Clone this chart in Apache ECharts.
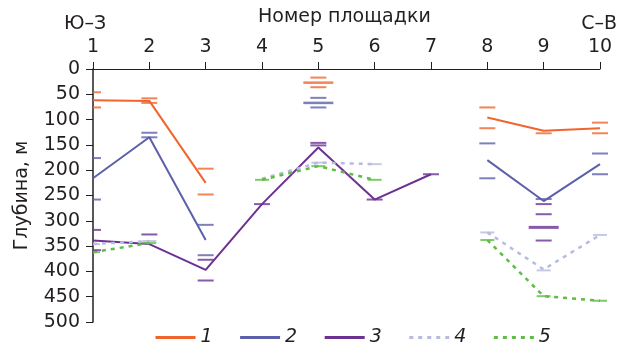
<!DOCTYPE html>
<html>
<head>
<meta charset="utf-8">
<script src="https://cdn.jsdelivr.net/npm/echarts@6/dist/echarts.min.js"></script>
<style>
  html, body { margin: 0; padding: 0; background: #fff; }
  #chart { width: 618px; height: 348px; }
</style>
</head>
<body>
<div id="chart"></div>
<script>
// Site numbers along the profile (south-west to north-east)
const sites = [1, 2, 3, 4, 5, 6, 7, 8, 9, 10];
const depthTicks = [0, 50, 100, 150, 200, 250, 300, 350, 400, 450, 500];

// Mean depth of each boundary per site, m (null = not traced)
const layer1 = [62, 63, 225, null, null, null, null, 96, 122, 117];
const layer2 = [216, 135, 338, null, null, null, null, 180, 261, 188];
const layer3 = [339, 346, 397, 267, 155, 258, 208, null, null, null];
const layer4 = [346, 340, null, 217, 185, 188, null, 323, 396, 328];
const layer5 = [362, 344, null, 219, 192, 219, null, 338, 449, 458];

// Individual determinations at each site: [site, depth]
const marks1 = [[1, 46], [1, 76], [2, 58], [2, 67], [3, 197], [3, 248], [5, 17], [5, 36], [8, 76], [8, 117], [9, 127], [10, 106], [10, 127]];
const marks1Main = [[5, 27]];
const marks2 = [[1, 176], [1, 258], [2, 126], [2, 135], [3, 308], [3, 368], [5, 57], [5, 76], [8, 147], [8, 216], [9, 257], [10, 167], [10, 208]];
const marks2Main = [[5, 67]];
const marks3 = [[1, 318], [1, 358], [2, 327], [3, 377], [3, 418], [4, 267], [5, 146], [5, 151], [6, 258], [7, 208], [9, 267], [9, 287], [9, 339]];
const marks3Main = [[9, 313]];
const marks4 = [[1, 346], [2, 340], [5, 185], [6, 188], [8, 323], [9, 398], [10, 328]];
const marks5 = [[1, 362], [2, 344], [4, 219], [5, 192], [6, 219], [8, 338], [9, 449], [10, 458]];

const names = ['1', '2', '3', '4', '5'];
const colors = ['#f0652d', '#5c60aa', '#6c3193', '#b7bbdf', '#5fbc46'];
const FONT = '"DejaVu Sans", Verdana, sans-serif';
const INK = '#231f20';

function pairs(values) {
  return sites.map((s, i) => [s, values[i]]);
}

// Short horizontal dash at a site; at the edge site only the inner half shows
function dashItems(list, width, height) {
  return list.map(p => {
    if (p[0] === sites[0]) {
      return { value: p, symbolSize: [width / 2, height], symbolOffset: [width / 4, 0] };
    }
    return { value: p, symbolSize: [width, height] };
  });
}

function lineSeries(name, values, color, dashed) {
  return {
    name: name,
    type: 'line',
    data: pairs(values),
    symbol: 'none',
    connectNulls: false,
    lineStyle: dashed
      ? { color: color, width: 2.5, type: [4, 5] }
      : { color: color, width: 2 },
    itemStyle: { color: color },
    z: 3
  };
}

function markSeries(list, color, width, height) {
  return {
    type: 'scatter',
    data: dashItems(list, width, height),
    symbol: 'rect',
    itemStyle: { color: color },
    silent: true,
    z: 4
  };
}

const series = [
  lineSeries(names[0], layer1, colors[0], false),
  lineSeries(names[1], layer2, colors[1], false),
  lineSeries(names[2], layer3, colors[2], false),
  lineSeries(names[3], layer4, colors[3], true),
  lineSeries(names[4], layer5, colors[4], true),
  markSeries(marks1, colors[0], 16, 2),
  markSeries(marks1Main, colors[0], 30, 2.5),
  markSeries(marks2, colors[1], 16, 2),
  markSeries(marks2Main, colors[1], 30, 2.5),
  markSeries(marks3, colors[2], 16, 2),
  markSeries(marks3Main, colors[2], 30, 3),
  markSeries(marks4, colors[3], 14, 2),
  markSeries(marks5, colors[4], 14, 2)
];

const chart = echarts.init(document.getElementById('chart'), null, { renderer: 'canvas' });

chart.setOption({
  backgroundColor: '#ffffff',
  animation: false,
  grid: { left: 93, right: 18, top: 69, bottom: 26 },
  xAxis: {
    type: 'value',
    position: 'top',
    min: sites[0],
    max: sites[sites.length - 1],
    interval: 1,
    axisLine: { show: true, onZero: false, lineStyle: { color: INK, width: 1 } },
    axisTick: { show: true, length: 7, lineStyle: { color: INK } },
    axisLabel: { fontFamily: FONT, fontSize: 19, color: INK, margin: 12 },
    splitLine: { show: false }
  },
  yAxis: {
    type: 'value',
    inverse: true,
    min: depthTicks[0],
    max: depthTicks[depthTicks.length - 1],
    interval: 50,
    name: 'Глубина, м',
    nameLocation: 'middle',
    nameGap: 61,
    nameRotate: 90,
    nameTextStyle: { fontFamily: FONT, fontSize: 19, color: INK },
    axisLine: { show: true, onZero: false, lineStyle: { color: INK, width: 1.5 } },
    axisTick: { show: true, length: 7, lineStyle: { color: INK } },
    axisLabel: { fontFamily: FONT, fontSize: 19, color: INK, margin: 13 },
    splitLine: { show: false }
  },
  legend: {
    data: names,
    left: 149,
    top: 323,
    itemWidth: 40,
    itemHeight: 14,
    itemGap: 26,
    itemStyle: { opacity: 0 },
    lineStyle: { width: 3 },
    textStyle: { fontFamily: FONT, fontSize: 19, fontStyle: 'italic', color: INK }
  },
  graphic: [
    {
      type: 'text', left: 64, top: 15,
      style: { text: 'Ю–З', font: '19px ' + FONT, fill: INK }
    },
    {
      type: 'text', right: 1, top: 15,
      style: { text: 'С–В', font: '19px ' + FONT, fill: INK }
    },
    {
      type: 'text', left: 258, top: 8,
      style: { text: 'Номер площадки', font: '19px ' + FONT, fill: INK }
    }
  ],
  series: series
});
</script>
</body>
</html>
